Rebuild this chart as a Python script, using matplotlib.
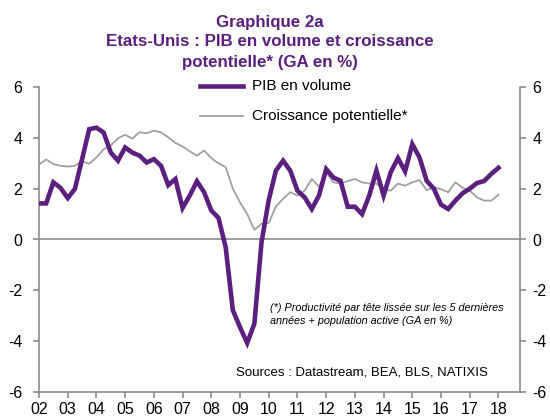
import matplotlib
matplotlib.use("Agg")
import matplotlib.pyplot as plt
import numpy as np

plt.rcParams['font.family'] = ['Liberation Sans', 'DejaVu Sans']
plt.rcParams['axes.unicode_minus'] = False

# Quarterly data 2002Q1 .. 2018Q1
year_labels = ["02", "03", "04", "05", "06", "07", "08", "09", "10",
               "11", "12", "13", "14", "15", "16", "17", "18"]

pib_volume = [1.42, 1.42, 2.25, 2.03, 1.63, 1.99, 3.16, 4.34, 4.40, 4.21,
              3.42, 3.10, 3.62, 3.42, 3.30, 3.03, 3.16, 2.90, 2.14, 2.38,
              1.24, 1.73, 2.29, 1.86, 1.14, 0.85, -0.30, -2.78, -3.45, -4.07,
              -3.31, -0.10, 1.55, 2.71, 3.10, 2.71, 1.92, 1.66, 1.20, 1.73,
              2.77, 2.44, 2.31, 1.29, 1.29, 1.00, 1.73, 2.71, 1.73, 2.65,
              3.20, 2.68, 3.75, 3.23, 2.31, 2.00, 1.37, 1.20, 1.53, 1.82,
              2.00, 2.22, 2.30, 2.58, 2.82]

croissance_potentielle = [2.95, 3.15, 2.97, 2.90, 2.87, 2.90, 3.08, 2.98, 3.23, 3.55,
                          3.70, 3.98, 4.12, 3.97, 4.22, 4.18, 4.28, 4.22, 4.02, 3.80,
                          3.66, 3.47, 3.30, 3.50, 3.20, 3.00, 2.85, 2.00, 1.46, 1.00,
                          0.38, 0.62, 0.65, 1.30, 1.60, 1.86, 1.73, 1.92, 2.38, 2.08,
                          2.64, 2.25, 2.20, 2.30, 2.38, 2.25, 2.20, 2.20, 1.98, 1.92,
                          2.20, 2.12, 2.25, 2.34, 1.94, 2.05, 1.98, 1.86, 2.25, 2.03,
                          1.92, 1.66, 1.53, 1.53, 1.76]

purple = '#5b1f80'
grey_line = '#a0a0a0'
spine_c = '#8c8c8c'

fig = plt.figure(figsize=(5.5, 4.19), dpi=100)
ax = fig.add_axes([39/550, 1-392/419, (520-39)/550, (392-87)/419])

x = np.arange(len(pib_volume))
ax.axhline(0, color=spine_c, lw=1.2, zorder=1)
ax.plot(x, croissance_potentielle, color=grey_line, lw=1.3, zorder=2,
        label='Croissance potentielle*')
ax.plot(x, pib_volume, color=purple, lw=3.3, zorder=3, label='PIB en volume',
        solid_joinstyle='miter')

ax.set_xlim(0, 67)
ax.set_ylim(-6, 6)
ax.set_yticks(np.arange(-6, 7, 2))
ax.set_xticks(np.arange(0, 4*len(year_labels), 4))
ax.set_xticklabels(year_labels)

for s in ['top', 'right']:
    ax.spines[s].set_visible(False)
for s in ['left', 'bottom']:
    ax.spines[s].set_color(spine_c)
    ax.spines[s].set_linewidth(1.2)
ax.tick_params(axis='both', colors=spine_c, labelcolor='black', labelsize=11.5,
               length=4, width=1.2)
ax.tick_params(axis='y', pad=8)
ax.tick_params(axis='x', pad=3)

ax2 = ax.twinx()
ax2.set_ylim(-6, 6)
ax2.set_yticks(np.arange(-6, 7, 2))
for s in ['top', 'left', 'bottom']:
    ax2.spines[s].set_visible(False)
ax2.spines['right'].set_color(spine_c)
ax2.spines['right'].set_linewidth(1.2)
ax2.tick_params(axis='y', colors=spine_c, labelcolor='black', labelsize=11.5,
                length=4, width=1.2, pad=5)

# Title
for txt, yy in [('Graphique 2a', 22), ('Etats-Unis : PIB en volume et croissance', 42),
                ('potentielle* (GA en %)', 62)]:
    fig.text(270/550, 1-yy/419, txt, ha='center', va='center',
             fontsize=12.2, fontweight='bold', color=purple)

# Legend (manual placement in figure coords)
fig.lines.append(plt.Line2D([200/550, 243/550], [1-86/419, 1-86/419],
                            color=purple, lw=3.3, transform=fig.transFigure))
fig.text(252/550, 1-86/419, 'PIB en volume', ha='left', va='center', fontsize=11)
fig.lines.append(plt.Line2D([200/550, 243/550], [1-116/419, 1-116/419],
                            color=grey_line, lw=1.3, transform=fig.transFigure))
fig.text(252/550, 1-116/419, 'Croissance potentielle*', ha='left', va='center',
         fontsize=11)

# Footnote and sources
fig.text(270/550, 1-308/419, '(*) Productivité par tête lissée sur les 5 dernières',
         ha='left', va='center', fontsize=7.8, style='italic')
fig.text(270/550, 1-321/419, 'années + population active (GA en %)',
         ha='left', va='center', fontsize=7.8, style='italic')
fig.text(488/550, 1-372/419, 'Sources : Datastream, BEA, BLS, NATIXIS',
         ha='right', va='center', fontsize=9.5)

fig.savefig('out.png', dpi=100)
